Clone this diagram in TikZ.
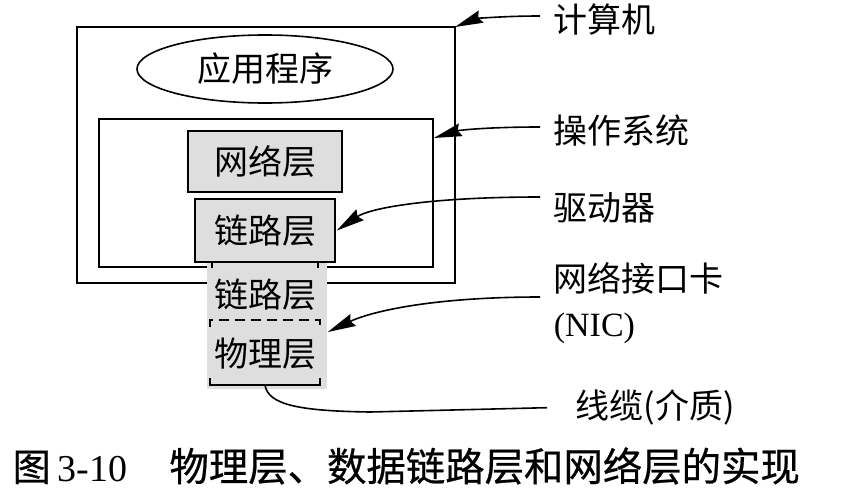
\documentclass[tikz,border=0pt]{standalone}
\usepackage{fontspec}
\setmainfont{Liberation Serif}
\newfontfamily\cjk{Noto Sans CJK SC}
\newfontfamily\cjkcap[FakeBold=0.6]{Noto Sans CJK SC}
\usetikzlibrary{shapes.geometric,arrows.meta}
\tikzset{
  layer/.style={draw,fill=black!13,inner sep=0pt,font=\cjk\fontsize{34}{36}\selectfont},
  lbl/.style={anchor=west,inner sep=0pt,align=left,font=\cjk\fontsize{34}{45}\selectfont},
  pointer/.style={-{Stealth[length=28pt,width=13pt,inset=3pt]},shorten <=13pt},
}

\begin{document}
\begin{tikzpicture}[x=1pt,y=-1pt,line width=1.6pt]
            \useasboundingbox (0,0) rectangle (842,498);
            \draw (207,283) -- (77,283) -- (77,27) -- (455,27) -- (455,283) -- (327,283);
            \coordinate (pc) at (455,27);
            \node[draw,minimum width=334pt,minimum height=148pt] (os) at (266,193) {};
            \node[draw,ellipse,minimum width=256pt,minimum height=68pt,inner sep=0pt,font=\cjk\fontsize{34}{36}\selectfont] (app) at (265,69) {应用程序};
            \node[layer,minimum width=154pt,minimum height=61pt] (net) at (265,161.5) {网络层};
            \node[layer,minimum width=140pt,minimum height=63pt] (drv) at (265,230.5) {链路层};
            \node[fill=black!13,minimum width=120pt,minimum height=126pt,inner sep=0pt] (nic) at (267,326) {};
            \draw (212,262) -- (212,267.8) (318,262) -- (318,267.8);
            \node[font=\cjk\fontsize{34}{36}\selectfont,inner sep=0pt] (niclink) at (265,295) {链路层};
            \node[font=\cjk\fontsize{34}{36}\selectfont,inner sep=0pt] (phys) at (265,354) {物理层};
            \draw[dash pattern=on 10pt off 6pt] (210,327) -- (210,320) -- (320,320) -- (320,327);
            \draw (210,378) -- (210,385) -- (320,385) -- (320,378);
            \coordinate (cab) at (265,385);
            \node[lbl] (lpc) at (553,20) {计算机};
            \node[lbl] (los) at (553,131) {操作系统};
            \node[lbl] (ldrv) at (553,208) {驱动器};
            \node[lbl] (lnic) at (553,303.5) {网络接口卡\\{\rmfamily (NIC)}};
            \node[lbl] (lcab) at (575,407) {线缆(介质)};
            \draw[pointer] ([yshift=4pt]lpc.west) .. controls (500,16) and (475,19) .. (pc);
            \draw[pointer] ([yshift=4pt]los.west) .. controls (490,127) and (460,130) .. (os.east |- 0,138);
            \draw[pointer] ([yshift=11pt]ldrv.west) .. controls (430,197) and (370,208) .. ([xshift=1pt]drv.east);
            \draw[pointer] ([yshift=6.5pt]lnic.west) .. controls (430,297) and (370,312) .. ([yshift=-6pt]nic.east);
            \draw[shorten >=28pt] (cab) .. controls (268,405) and (300,411) .. (370,412) -- (lcab.west);
            \node[anchor=west,inner sep=0pt,font=\fontsize{38}{40}\selectfont] (cap) at (12,466) {{\cjkcap 图}\hspace{7pt}3-10\hspace{42pt}{\cjkcap\fontsize{39.4}{40}\selectfont 物理层、数据链路层和网络层的实现}};
        \end{tikzpicture}
\end{document}
